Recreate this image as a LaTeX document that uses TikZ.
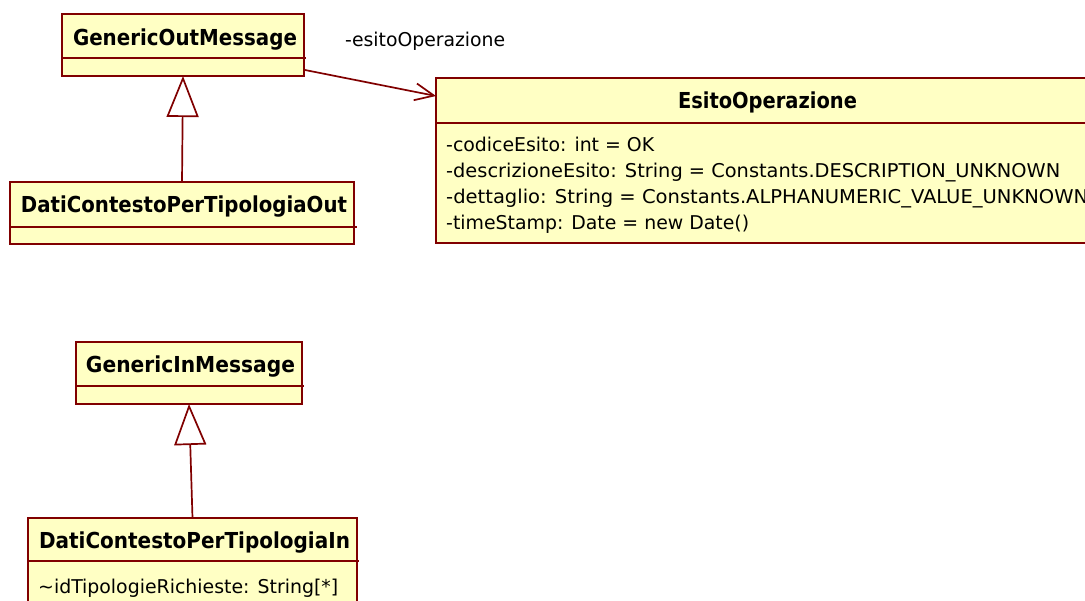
\documentclass[tikz,border=0pt]{standalone}
\usepackage{fontspec}
\setmainfont{DejaVu Sans}
\newfontfamily\condfont{DejaVu Sans Condensed}
\usetikzlibrary{arrows.meta,calc}
\definecolor{umlfill}{RGB}{255,255,196}
\definecolor{umlline}{RGB}{128,0,0}
% set a text to a given width, keeping its natural height
\newcommand\fitw[2]{\resizebox{#1}{\height}{#2}}

\begin{document}
\begin{tikzpicture}[x=1pt,y=-1pt,
  classbox/.style={draw=umlline, fill=umlfill, line width=1.9pt, inner sep=0pt, outer sep=0pt},
  classname/.style={anchor=base, inner sep=0pt, font=\fontsize{22}{26}\selectfont\bfseries},
  attr/.style={anchor=base west, inner sep=0pt, font=\condfont\fontsize{19}{22}\selectfont},
  compart/.style={draw=umlline, line width=1.9pt},
  link/.style={draw=umlline, line width=1.7pt},
  gen/.style={link, -{Triangle[open, length=41pt, width=32pt]}},
  assoc/.style={link, -{Straight Barb[length=19pt, width=17pt]}}]

\useasboundingbox (0,0) rectangle (1085,601);
\clip (0,0) rectangle (1085,601);

% class boxes
\node[classbox, minimum width=242pt, minimum height=62pt] (gom) at (183,45) {};
\node[classbox, minimum width=344pt, minimum height=62pt] (dco) at (182,213) {};
\node[classbox, minimum width=664pt, minimum height=165pt] (eo) at (768,160.5) {};
\node[classbox, minimum width=226pt, minimum height=62pt] (gim) at (189,373) {};
\node[classbox, minimum width=329pt, minimum height=110pt] (dci) at (192.5,573) {};

% compartment separators
\draw[compart] (62,58) -- (306,58);
\draw[compart] (10,227) -- (357,227);
\draw[compart] (436,123) -- (1100,123);
\draw[compart] (76,386) -- (304,386);
\draw[compart] (28,561) -- (359,561);

% class names
\node[classname] (gomname) at (185,45.5) {\fitw{224pt}{GenericOutMessage}};
\node[classname] (dconame) at (184,213) {\fitw{326pt}{DatiContestoPerTipologiaOut}};
\node[classname] (eoname) at (767.5,109) {\fitw{179pt}{EsitoOperazione}};
\node[classname] (gimname) at (190.5,372.5) {\fitw{209pt}{GenericInMessage}};
\node[classname] (dciname) at (194.5,548) {\fitw{311pt}{DatiContestoPerTipologiaIn}};

% attributes
\node[attr] (eoa1) at (446,152) {\fitw{208pt}{-codiceEsito: int = OK}};
\node[attr] (eoa2) at (446,178) {\fitw{614pt}{-descrizioneEsito: String = Constants.DESCRIPTION\_UNKNOWN}};
\node[attr] (eoa3) at (446,204) {\fitw{642pt}{-dettaglio: String = Constants.ALPHANUMERIC\_VALUE\_UNKNOWN}};
\node[attr] (eoa4) at (446,230) {\fitw{303pt}{-timeStamp: Date = new Date()}};
\node[attr] (dcia1) at (38,593) {\fitw{300pt}{\textasciitilde idTipologieRichieste: String[*]}};

% generalizations
\draw[gen] (dco.north) -- (gom.south);
\draw[gen] (dci.north) -- (gim.south);

% association with role name
\coordinate (a0) at ($(gom.south east)+(1,-6)$);
\coordinate (a1) at ($(eo.north west)+(0,18)$);
\draw[assoc] (a0) -- (a1);
\node[attr] (role) at (345,47) {\fitw{160pt}{-esitoOperazione}};
\end{tikzpicture}
\end{document}
